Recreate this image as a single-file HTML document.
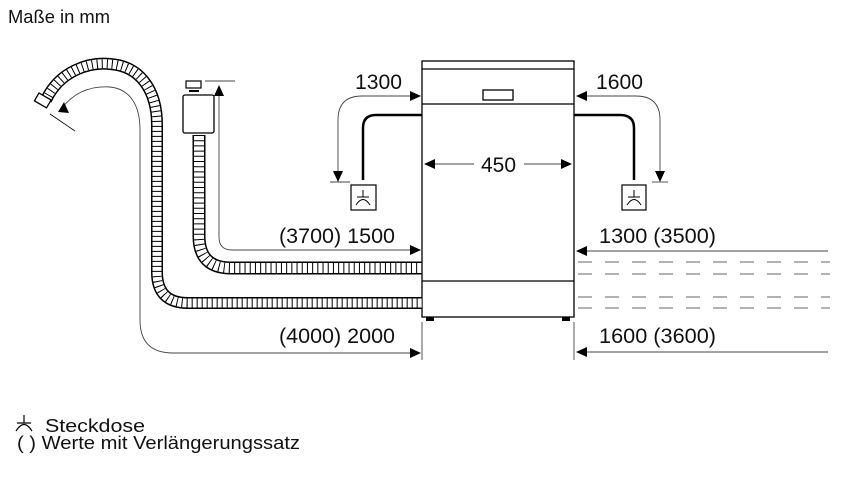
<!DOCTYPE html>
<html><head><meta charset="utf-8"><style>
html,body{margin:0;padding:0;background:#fff;}
svg{display:block;}
text{font-family:"Liberation Sans",Arial,sans-serif;fill:#111;}
</style></head><body>
<svg width="843" height="490" viewBox="0 0 843 490" xmlns="http://www.w3.org/2000/svg">
<rect width="843" height="490" fill="#fff"/>
<text x="8" y="23" font-size="18" textLength="102" lengthAdjust="spacingAndGlyphs">Maße in mm</text>

<!-- dishwasher -->
<g fill="#fff" stroke="#000" stroke-width="1.3">
<rect x="422" y="61" width="152" height="256"/>
<line x1="422" y1="69" x2="574" y2="69"/>
<line x1="422" y1="104" x2="574" y2="104"/>
<line x1="422" y1="281" x2="574" y2="281"/>
<rect x="483" y="90" width="30" height="10"/>
</g>
<rect x="426" y="317" width="8" height="4" fill="#000"/>
<rect x="562" y="317" width="8" height="4" fill="#000"/>

<!-- hoses -->
<g fill="none">
<path d="M199,135 L199,236 Q199,268 231,268 L422,268" stroke="#000" stroke-width="13"/>
<path d="M199,135 L199,236 Q199,268 231,268 L422,268" stroke="#fff" stroke-width="10"/>
<path d="M199,135 L199,236 Q199,268 231,268 L422,268" stroke="#000" stroke-width="10" stroke-dasharray="1 4.2"/>
<path d="M46,100 C60,70 90,62 110,64 C140,66 157,90 157,125 L157,272 Q157,303 188,303 L422,303" stroke="#000" stroke-width="12"/>
<path d="M46,100 C60,70 90,62 110,64 C140,66 157,90 157,125 L157,272 Q157,303 188,303 L422,303" stroke="#fff" stroke-width="9"/>
<path d="M46,100 C60,70 90,62 110,64 C140,66 157,90 157,125 L157,272 Q157,303 188,303 L422,303" stroke="#000" stroke-width="9" stroke-dasharray="1 4"/>
</g>
<rect x="36" y="96" width="14" height="9" transform="rotate(30 43 100)" fill="#fff" stroke="#000" stroke-width="1.3"/>
<line x1="50" y1="114" x2="75" y2="131" stroke="#000" stroke-width="0.8"/>
<rect x="186" y="81" width="15" height="7" fill="#fff" stroke="#000" stroke-width="1.2"/>
<line x1="189" y1="91" x2="199" y2="91" stroke="#000" stroke-width="2"/>
<rect x="183" y="95" width="31" height="38" rx="2" fill="#fff" stroke="#000" stroke-width="1.3"/>

<!-- dimension thin lines -->
<g fill="none" stroke="#444" stroke-width="0.9">
<path d="M412,250 L232,250 Q219,250 219,237 L219,92"/>
<line x1="205" y1="81" x2="235" y2="81"/>
<path d="M62,108 Q80,85 110,87 C130,89 140,105 140,130 L140,320 Q140,353 173,353 L412,353"/>
<path d="M338,172 L338,120 Q338,96 362,96 L412,96"/>
<line x1="330" y1="182" x2="350" y2="182"/>
<path d="M660,172 L660,120 Q660,96 636,96 L584,96"/>
<line x1="652" y1="182" x2="668" y2="182"/>
<line x1="432" y1="164" x2="474" y2="164"/>
<line x1="524" y1="164" x2="564" y2="164"/>
<line x1="828" y1="251" x2="584" y2="251"/>
<line x1="828" y1="352" x2="584" y2="352"/>
<line x1="422" y1="322" x2="422" y2="360"/>
<line x1="574" y1="322" x2="574" y2="360"/>
</g>
<g fill="#000">
<path d="M58,112 L64,102 L69,113 z"/>
<path d="M219,85 L214,96 L224,96 z"/>
<path d="M421,250 L410,245 L410,255 z"/>
<path d="M421,353 L410,348 L410,358 z"/>
<path d="M421,96 L410,91 L410,101 z"/>
<path d="M338,182 L333,171 L343,171 z"/>
<path d="M576,96 L587,91 L587,101 z"/>
<path d="M660,182 L655,171 L665,171 z"/>
<path d="M424,164 L435,159 L435,169 z"/>
<path d="M572,164 L561,159 L561,169 z"/>
<path d="M576,251 L587,246 L587,256 z"/>
<path d="M576,352 L587,347 L587,357 z"/>
</g>
<g stroke="#666" stroke-width="0.9" stroke-dasharray="14 13">
<line x1="578" y1="262" x2="830" y2="262"/>
<line x1="578" y1="274" x2="830" y2="274"/>
<line x1="578" y1="297" x2="830" y2="297"/>
<line x1="578" y1="308" x2="830" y2="308"/>
</g>

<g fill="none" stroke="#000" stroke-width="2.5">
<path d="M422,115 L376,115 Q363,115 363,128 L363,180"/>
<path d="M574,115 L620,115 Q634,115 634,128 L634,180"/>
</g>
<g fill="#fff" stroke="#000" stroke-width="1.2">
<rect x="351" y="185" width="25" height="25"/>
<rect x="622" y="185" width="24" height="25"/>
</g>
<g fill="none" stroke="#000" stroke-width="1">
<path d="M363,190 L363,197 M357,197 L369,197 M356,205 Q363,194 370,205"/>
<path d="M634,190 L634,197 M628,197 L640,197 M627,205 Q634,194 641,205"/>
</g>

<g font-size="21">
<text x="355" y="89" textLength="47" lengthAdjust="spacingAndGlyphs">1300</text>
<text x="596" y="89" textLength="47" lengthAdjust="spacingAndGlyphs">1600</text>
<text x="481" y="172" textLength="35" lengthAdjust="spacingAndGlyphs">450</text>
<text x="279" y="243" textLength="116" lengthAdjust="spacingAndGlyphs">(3700) 1500</text>
<text x="599" y="243" textLength="117" lengthAdjust="spacingAndGlyphs">1300 (3500)</text>
<text x="279" y="343" textLength="116" lengthAdjust="spacingAndGlyphs">(4000) 2000</text>
<text x="599" y="343" textLength="117" lengthAdjust="spacingAndGlyphs">1600 (3600)</text>
</g>
<g fill="none" stroke="#000" stroke-width="1.2">
<path d="M24,415 L24,423 M17,423 L31,423 M16,431 Q24,418 32,431"/>
</g>
<text x="45" y="432" font-size="18" textLength="100" lengthAdjust="spacingAndGlyphs">Steckdose</text>
<text x="17" y="449" font-size="18" textLength="283" lengthAdjust="spacingAndGlyphs">( ) Werte mit Verlängerungssatz</text>
</svg>
</body></html>
